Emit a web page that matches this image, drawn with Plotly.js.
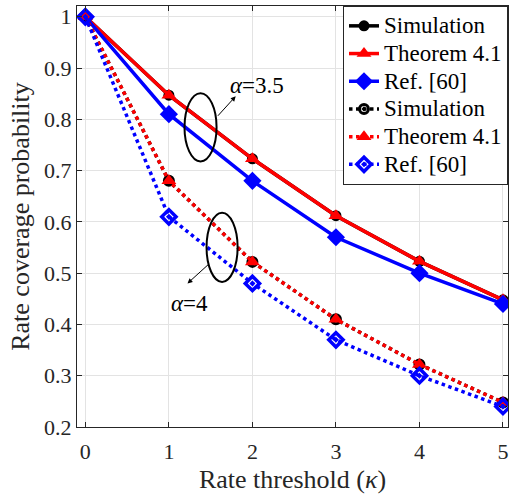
<!DOCTYPE html>
<html><head><meta charset="utf-8">
<script src="https://cdn.plot.ly/plotly-3.0.1.min.js"></script>
<style>html,body{margin:0;padding:0;background:#fff}#c{width:509px;height:497px}</style>
</head><body><div id="c"></div>
<script>
const kappa = [0, 1, 2, 3, 4, 5];
const sim35 = [1, 0.847, 0.723, 0.612, 0.523, 0.448];
const thm35 = [1, 0.847, 0.723, 0.612, 0.523, 0.448];
const ref35 = [1, 0.81, 0.68, 0.57, 0.50, 0.44];
const sim4 = [1, 0.68, 0.522, 0.41, 0.322, 0.248];
const thm4 = [1, 0.68, 0.522, 0.41, 0.322, 0.248];
const ref4 = [1, 0.61, 0.48, 0.37, 0.30, 0.24];
const names = ['Simulation', 'Theorem 4.1', 'Ref. [60]'];

function tr(y, name, color, sym, size, dash, lw) {
  return {x: kappa, y: y, name: '<span style="font-size:23px">' + name + '</span>',
    mode: 'lines+markers', type: 'scatter',
    line: {color: color, width: 3.5, dash: dash},
    marker: {color: color, symbol: sym, size: size, line: {width: lw, color: color}}};
}
const data = [
  tr(sim35, names[0], '#000000', 'circle', 11, 'solid', 0),
  tr(thm35, names[1], '#ff0000', 'triangle-up', 13, 'solid', 0),
  tr(ref35, names[2], '#0000ff', 'diamond', 14, 'solid', 0),
  tr(sim4, names[0], '#000000', 'circle-open-dot', 9, 'dot', 3),
  tr(thm4, names[1], '#ff0000', 'triangle-up', 13, 'dot', 0),
  tr(ref4, names[2], '#0000ff', 'diamond-open-dot', 11, 'dot', 3.5)
];
const F = 'Liberation Serif, Times New Roman, serif';
const layout = {
  width: 509, height: 497,
  margin: {l: 77, r: 1, t: 6, b: 70},
  paper_bgcolor: '#fff', plot_bgcolor: '#fff',
  font: {family: F, size: 22, color: '#262626'},
  showlegend: true,
  legend: {x: 1, xanchor: 'right', xref: 'paper', y: 1, yanchor: 'top', yref: 'paper',
    bgcolor: '#fff', bordercolor: '#262626', borderwidth: 1,
    font: {family: F, size: 19, color: '#000'}, tracegroupgap: 0},
  xaxis: {range: [-0.1, 5.06], tickvals: kappa, ticktext: kappa.map(String),
    showgrid: true, gridcolor: '#e3e3e3', gridwidth: 1, zeroline: false,
    showline: true, linecolor: '#262626', linewidth: 1, mirror: 'ticks',
    ticks: 'inside', ticklen: 5, tickcolor: '#262626', ticklabelstandoff: 5,
    tickfont: {family: F, size: 22, color: '#262626'},
    title: {text: 'Rate threshold (<i>κ</i>)', font: {family: F, size: 26, color: '#262626'}, standoff: 6}},
  yaxis: {range: [0.2, 1.021], tickvals: [0.2,0.3,0.4,0.5,0.6,0.7,0.8,0.9,1], ticktext: ['0.2','0.3','0.4','0.5','0.6','0.7','0.8','0.9','1'],
    showgrid: true, gridcolor: '#e3e3e3', gridwidth: 1, zeroline: false,
    showline: true, linecolor: '#262626', linewidth: 1, mirror: 'ticks',
    ticks: 'inside', ticklen: 5, tickcolor: '#262626',
    tickfont: {family: F, size: 22, color: '#262626'},
    title: {text: 'Rate coverage probability', font: {family: F, size: 26, color: '#262626'}, standoff: 6}},
  shapes: [
    {type: 'circle', xref: 'x', yref: 'y', x0: 1.187, x1: 1.571, y0: 0.718, y1: 0.851, line: {color: '#000', width: 2}},
    {type: 'circle', xref: 'x', yref: 'y', x0: 1.451, x1: 1.823, y0: 0.483, y1: 0.618, line: {color: '#000', width: 2}}
  ],
  annotations: [
    {x: 1.80, y: 0.845, ax: 1.571, ay: 0.804, xref: 'x', yref: 'y', axref: 'x', ayref: 'y', text: '', showarrow: true, arrowhead: 2, arrowsize: 1, arrowwidth: 1, arrowcolor: '#000'},
    {x: 1.223, y: 0.480, ax: 1.487, ay: 0.519, xref: 'x', yref: 'y', axref: 'x', ayref: 'y', text: '', showarrow: true, arrowhead: 2, arrowsize: 1, arrowwidth: 1, arrowcolor: '#000'},
    {x: 2.06, y: 0.866, xref: 'x', yref: 'y', text: '<i>α</i>=3.5', showarrow: false, font: {family: F, size: 23, color: '#000'}},
    {x: 1.247, y: 0.44, xref: 'x', yref: 'y', text: '<i>α</i>=4', showarrow: false, font: {family: F, size: 23, color: '#000'}}
  ]
};
Plotly.newPlot('c', data, layout, {displayModeBar: false});
</script></body></html>
